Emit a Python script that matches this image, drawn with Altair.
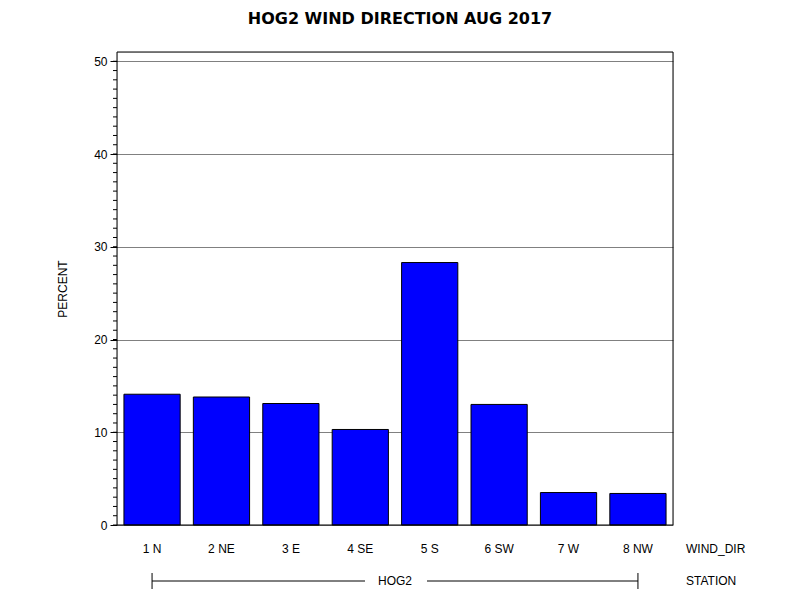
import altair as alt
import pandas as pd

directions = ["1 N", "2 NE", "3 E", "4 SE", "5 S", "6 SW", "7 W", "8 NW"]
percents = [14.1, 13.8, 13.1, 10.3, 28.3, 13.0, 3.5, 3.4]
y_major = [0, 10, 20, 30, 40, 50]
y_minor = list(range(0, 51))
station = "HOG2"
title_text = "HOG2 WIND DIRECTION AUG 2017"

W, H = 556, 473
FONT = "Liberation Sans"

df = pd.DataFrame({"WIND_DIR": directions, "PERCENT": percents})
xscale = alt.Scale(domain=directions, paddingInner=0.19, paddingOuter=0.1)
yscale = alt.Scale(domain=[0, 51], nice=False)

bars = alt.Chart(df).mark_bar(color="#0000FF", stroke="black", strokeWidth=1).encode(
    x=alt.X("WIND_DIR:N", scale=xscale, sort=directions,
            axis=alt.Axis(title=None, labelAngle=0, ticks=False, domain=False,
                          labelPadding=18, labelFontSize=12, labelFont=FONT,
                          labelColor="black", grid=False)),
    y=alt.Y("PERCENT:Q", scale=yscale,
            axis=alt.Axis(values=y_major, tickSize=7, tickColor="black", tickWidth=1,
                          grid=True, gridColor="#808080", gridOpacity=1, domain=False,
                          title="PERCENT", titleFontWeight="normal", titleFontSize=12,
                          titleFont=FONT, titleColor="black", titlePadding=24,
                          labelFontSize=12, labelFont=FONT, labelColor="black",
                          labelPadding=3)),
)

minor = alt.Chart(pd.DataFrame({"v": y_minor})).mark_rule(color="black", strokeWidth=1).encode(
    y=alt.Y("v:Q", scale=yscale),
    x=alt.value(-4), x2=alt.value(0),
)

frame = alt.Chart(pd.DataFrame({"f": [0]})).mark_rect(
    fill=None, stroke="black", strokeWidth=1).encode(
    x=alt.value(0), x2=alt.value(W), y=alt.value(0), y2=alt.value(H),
)

bracket = alt.Chart(pd.DataFrame({"start": [directions[0]], "end": [directions[-1]]})).mark_rule(
    color="black", strokeWidth=1).encode(
    x=alt.X("start:N", scale=xscale), x2="end:N", y=alt.value(H + 56),
)

gap = alt.Chart(pd.DataFrame({"s": [station]})).mark_rect(color="white").encode(
    x=alt.value(W / 2 - 30), x2=alt.value(W / 2 + 32),
    y=alt.value(H + 50), y2=alt.value(H + 62),
)

ends = alt.Chart(pd.DataFrame({"d": [directions[0], directions[-1]]})).mark_rule(
    color="black", strokeWidth=1).encode(
    x=alt.X("d:N", scale=xscale), y=alt.value(H + 48), y2=alt.value(H + 64),
)

st_text = alt.Chart(pd.DataFrame({"s": [station]})).mark_text(
    font=FONT, fontSize=12, color="black", align="center", baseline="middle").encode(
    text="s:N", x=alt.value(W / 2), y=alt.value(H + 56),
)

labels = alt.Chart(pd.DataFrame({"t": ["WIND_DIR", "STATION"], "yy": [H + 24, H + 56]})).mark_text(
    font=FONT, fontSize=12, color="black", align="left", baseline="middle").encode(
    text="t:N", x=alt.value(W + 13), y=alt.Y("yy:Q", scale=None),
)

chart = alt.layer(bars, minor, frame, bracket, gap, ends, st_text, labels).properties(
    width=W, height=H,
    title=alt.TitleParams(title_text, font="DejaVu Sans", fontSize=16, fontWeight="bold",
                          color="black", anchor="middle", offset=25, dx=5),
    autosize=alt.AutoSizeParams(type="none"),
    padding={"left": 109, "top": 44, "right": 119, "bottom": 75},
).configure_view(stroke=None).configure(background="white")

chart.save("out.html", embed_options={"renderer": "svg", "actions": False})
